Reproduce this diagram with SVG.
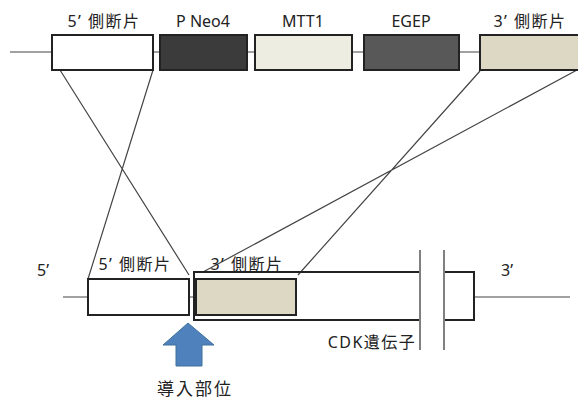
<svg xmlns="http://www.w3.org/2000/svg" width="578" height="399" viewBox="0 0 578 399">
<style>
.t{font-family:"Noto Sans","Noto Sans CJK JP",sans-serif;font-size:16px;fill:#222;}
.j{letter-spacing:1.5px;}
.box{stroke:#222;stroke-width:2;}
.ln{stroke:#444;stroke-width:1.2;fill:none;}
.br{stroke:#808080;stroke-width:2;fill:none;}
</style>
<rect width="578" height="399" fill="#fff"/>
<g id="connectors">
<path class="ln" d="M10,52H52 M153,52H160 M247,52H255 M352,52H364 M459,52H480"/>
<path class="ln" d="M60,70L189,275 M153,70L88,279 M480,71L298,275 M577,70L203,272"/>
<path class="ln" d="M63,297H88 M189,297H194 M474,297H570"/>
</g>
<g id="top-5flank"><rect class="box" x="52" y="35" width="101" height="35" fill="#fff"/><text class="t j" x="104" y="27" text-anchor="middle">5’ 側断片</text></g>
<g id="top-pneo4"><rect class="box" x="160" y="35" width="87" height="35" fill="#3b3b3b"/><text class="t" x="203" y="27" text-anchor="middle">P Neo4</text></g>
<g id="top-mtt1"><rect class="box" x="255" y="35" width="97" height="35" fill="#eeede2"/><text class="t" x="303" y="27" text-anchor="middle">MTT1</text></g>
<g id="top-egep"><rect class="box" x="364" y="35" width="95" height="35" fill="#585858"/><text class="t" x="411" y="27" text-anchor="middle">EGEP</text></g>
<g id="top-3flank"><rect class="box" x="480" y="35" width="100" height="35" fill="#ddd8c4"/><text class="t j" x="530" y="27" text-anchor="middle">3’ 側断片</text></g>
<g id="gene">
<path class="box" fill="none" d="M420,272H194V320H420 M444,272H474V320H444"/>
<path class="br" d="M420,250V350 M444,250V350"/>
<text class="t j" x="372" y="348" text-anchor="middle">CDK遺伝子</text>
<text class="t" x="43" y="276" text-anchor="middle">5’</text>
<text class="t" x="507" y="276" text-anchor="middle">3’</text>
</g>
<g id="bot-5flank"><rect class="box" x="88" y="279" width="101" height="36" fill="#fff"/><text class="t j" x="135" y="270" text-anchor="middle">5’ 側断片</text></g>
<g id="bot-3flank"><rect class="box" x="196" y="279" width="100" height="36" fill="#ddd8c4"/><text class="t j" x="247" y="270" text-anchor="middle">3’ 側断片</text></g>
<g id="site">
<polygon points="188,323 214,345 202,345 202,366 176,366 176,345 163,345" fill="#4f81bd" stroke="#41719c" stroke-width="1"/>
<text class="t" x="195" y="395" text-anchor="middle" style="font-size:17px;letter-spacing:2px">導入部位</text>
</g>
</svg>
